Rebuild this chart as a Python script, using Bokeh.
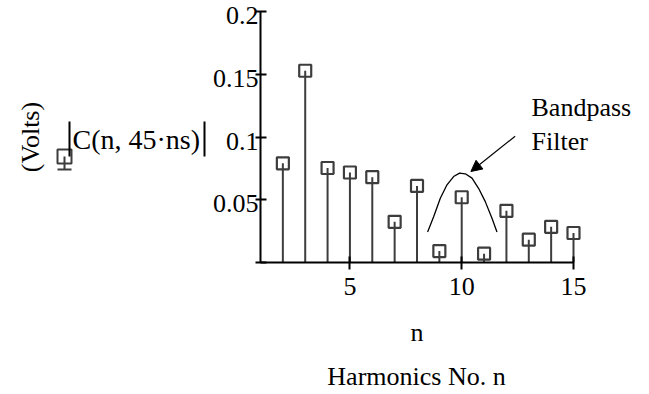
from bokeh.plotting import figure
from bokeh.models import (FixedTicker, Label, LabelSet, ColumnDataSource, Arrow, NormalHead,
                          BoxAnnotation, Range1d)
from bokeh.core.properties import value
from bokeh.embed import file_html
from bokeh.resources import INLINE

# ---- data ----
harmonic_n = [2, 3, 4, 5, 6, 7, 8, 9, 10, 11, 12, 13, 14, 15]
c_volts = [0.0790, 0.1528, 0.0753, 0.0717, 0.0680, 0.0324, 0.0610,
           0.0091, 0.0520, 0.0070, 0.0412, 0.0182, 0.0284, 0.0235]

x_ticks = [5, 10, 15]
y_ticks = [0, 0.05, 0.1, 0.15, 0.2]
y_tick_labels = ["", "0.05", "0.1", "0.15", "0.2"]
x_axis_bounds = (1, 15)
y_axis_bounds = (0, 0.2)

# hand-drawn bandpass filter sketch
filter_x = [8.475, 8.744, 9.043, 9.342, 9.637, 9.905, 10.16, 10.46, 10.754, 11.054, 11.354, 11.577]
filter_y = [0.0243, 0.0364, 0.0512, 0.0619, 0.0685, 0.0712, 0.0707, 0.0672, 0.0591, 0.0485, 0.0352, 0.0243]
arrow_start = [12.39, 0.1006]
arrow_end = [10.41, 0.0725]

FONT = "Liberation Serif"
FS = "26px"
STEM = "#3d3d3d"

W, H = 641, 390
# pixel placement of the plot area inside the canvas
X_LEFT_PX, X_RIGHT_PX = 260.0, 573.0     # x = 1 and x = 15
Y_BOTTOM_PX, Y_TOP_PX = 262.0, 11.0      # y = 0 and y = 0.2
xs = (X_RIGHT_PX - X_LEFT_PX) / (x_axis_bounds[1] - x_axis_bounds[0])
ys = (Y_BOTTOM_PX - Y_TOP_PX) / (y_axis_bounds[1] - y_axis_bounds[0])
x_range = Range1d(x_axis_bounds[0] - X_LEFT_PX / xs, x_axis_bounds[1] + (W - X_RIGHT_PX) / xs)
y_range = Range1d(y_axis_bounds[0] - (H - Y_BOTTOM_PX) / ys, y_axis_bounds[1] + Y_TOP_PX / ys)

p = figure(width=W, height=H, x_range=x_range, y_range=y_range,
           output_backend="svg", toolbar_location=None, min_border=0)
p.outline_line_color = None
p.grid.visible = False
p.background_fill_color = "white"
p.border_fill_color = "white"

# stems + hollow squares
p.segment(x0=harmonic_n, y0=[0] * len(harmonic_n), x1=harmonic_n, y1=c_volts,
          line_color=STEM, line_width=2)
p.scatter(harmonic_n, c_volts, marker="square", size=12, fill_color=None,
          line_color=STEM, line_width=2.2)

# bandpass sketch + arrow
p.line(filter_x, filter_y, line_color="black", line_width=1.3)
p.add_layout(Arrow(x_start=arrow_start[0], y_start=arrow_start[1],
                   x_end=arrow_end[0], y_end=arrow_end[1],
                   line_color="black", line_width=1.2,
                   end=NormalHead(size=11, fill_color="black", line_color="black")))

# axes, fixed at the data origin of the plot
xa = p.xaxis[0]
xa.ticker = FixedTicker(ticks=x_ticks)
xa.fixed_location = y_axis_bounds[0]
xa.bounds = x_axis_bounds
xa.axis_label = "n"
ya = p.yaxis[0]
ya.ticker = FixedTicker(ticks=y_ticks)
ya.major_label_overrides = {t: "" for t in y_ticks}
ya.fixed_location = x_axis_bounds[0]
ya.bounds = y_axis_bounds
ya.axis_label = "(Volts)"

for ax in (xa, ya):
    ax.axis_line_color = "black"
    ax.axis_line_width = 2
    ax.major_tick_line_color = "black"
    ax.major_tick_line_width = 2
    ax.minor_tick_line_color = None
    ax.major_label_text_font = FONT
    ax.major_label_text_font_size = FS
    ax.major_label_text_color = "black"
    ax.axis_label_text_font = FONT
    ax.axis_label_text_font_size = FS
    ax.axis_label_text_font_style = "normal"
    ax.axis_label_text_color = "black"

xa.major_tick_in = 6
xa.major_tick_out = 7
xa.major_label_standoff = 8
xa.axis_label_standoff = 20
ya.major_tick_in = 6
ya.major_tick_out = 5
ya.major_label_standoff = 0
ya.axis_label_standoff = 211

# y tick labels, placed through the y scale (sit slightly below their ticks, as in the original)
ytl = ColumnDataSource(dict(x=[x_axis_bounds[0]] * len(y_ticks), y=y_ticks, t=y_tick_labels))
p.add_layout(LabelSet(x="x", y="y", text="t", source=ytl, x_offset=-2, y_offset=-4,
                      text_align="right", text_baseline="middle",
                      text_font=value(FONT), text_font_size=value(FS), text_color="black"))

# legend-style trace label on the left (screen units, origin at bottom-left)
def seg(x0, y0, x1, y1, color="black", w=2):
    p.add_layout(Arrow(x_start=x0, y_start=y0, x_end=x1, y_end=y1,
                       start_units="screen", end_units="screen", end=None,
                       line_color=color, line_width=w))

p.add_layout(BoxAnnotation(left=57, right=71, top=241, bottom=227,
                           left_units="screen", right_units="screen",
                           top_units="screen", bottom_units="screen",
                           fill_color=None, fill_alpha=0,
                           line_color=STEM, line_alpha=1, line_width=2))
seg(64, 234, 64, 221, STEM)
seg(57, 221, 71, 221, STEM)
seg(69, 269, 69, 234)
seg(204, 269, 204, 234)

def text(x, y, s, align="left", size=FS):
    p.add_layout(Label(x=x, y=y, x_units="screen", y_units="screen", text=s,
                       text_font=FONT, text_font_size=size, text_color="black",
                       text_align=align, text_baseline="middle"))

text(72, 251, "C(n, 45·ns)", size="28px")
text(531, 283, "Bandpass")
text(531, 249, "Filter")
text(416, 14, "Harmonics No. n", align="center")

open("out.html", "w").write(file_html(p, INLINE))
